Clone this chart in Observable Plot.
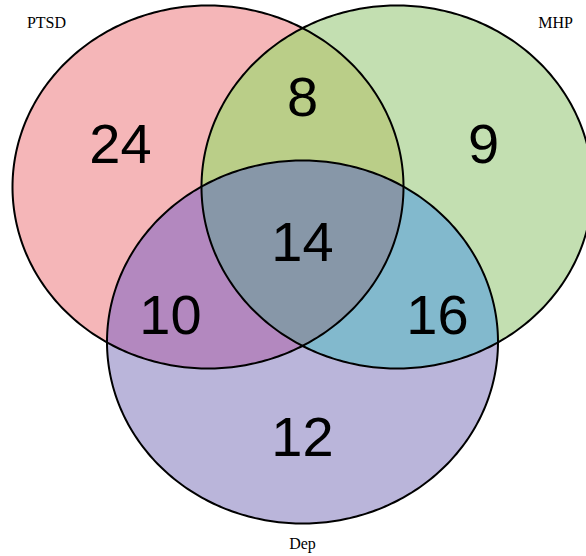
<!DOCTYPE html>
<html><head><meta charset="utf-8">
<script src="https://cdn.jsdelivr.net/npm/d3@7"></script>
<script src="https://cdn.jsdelivr.net/npm/@observablehq/plot@0.6"></script>
<style>body{margin:0;background:#fff}#chart svg{display:block}</style>
</head><body><div id="chart"></div>
<script>
// ---- data ----
const sets = ["PTSD", "MHP", "Dep"];
const regionKeys = ["100", "010", "001", "110", "101", "011", "111"]; // membership in PTSD, MHP, Dep
const counts = [24, 9, 12, 8, 10, 16, 14];
const regionColors = ["#F5B6B8", "#C3DFB1", "#BAB5DA", "#BACE88", "#B388BF", "#82B9CD", "#8797A8"];

// ---- layout (pixel units) ----
const circleCx = [207.5, 396.5, 302];
const circleCy = [186.5, 186.5, 341.5];
const radiusX = 195.5, radiusY = 181.5;
const countX = [120, 483, 302, 302, 170, 437, 302];
const countY = [145, 145, 438, 98, 316, 316, 243];
const setLabelX = [46, 555, 302];
const setLabelY = [22, 22, 543];

const inside = (i, x, y) => {
  const dx = (x - circleCx[i]) / radiusX, dy = (y - circleCy[i]) / radiusY;
  return dx * dx + dy * dy <= 1;
};
const regionFill = (x, y) => {
  const key = sets.map((_, i) => inside(i, x, y) ? "1" : "0").join("");
  const k = regionKeys.indexOf(key);
  return k < 0 ? null : regionColors[k];
};

const outline = [];
sets.forEach((s, i) => {
  for (let a = 0; a < 360; a += 1) {
    const t = a * Math.PI / 180;
    outline.push({set: s, x: circleCx[i] + radiusX * Math.cos(t), y: circleCy[i] + radiusY * Math.sin(t)});
  }
});

const chart = Plot.plot({
  width: 586, height: 556, margin: 0,
  x: {domain: [0, 586], range: [0, 586], axis: null},
  y: {domain: [0, 556], range: [0, 556], axis: null},
  color: {type: "identity"},
  style: {background: "white"},
  marks: [
    Plot.raster({fill: regionFill, x1: 0, x2: 586, y1: 0, y2: 556, pixelRatio: 1}),
    Plot.line(outline, {x: "x", y: "y", z: "set", curve: "linear-closed", stroke: "black", strokeWidth: 2}),
    Plot.text(counts, {x: (d, i) => countX[i], y: (d, i) => countY[i], text: d => String(d),
      fontSize: 56, fontFamily: "Liberation Sans, Arial, sans-serif", fill: "black"}),
    Plot.text(sets, {x: (d, i) => setLabelX[i], y: (d, i) => setLabelY[i], text: d => d,
      fontSize: 16, fontFamily: "Liberation Serif, Times New Roman, serif", fill: "black"})
  ]
});
document.getElementById("chart").appendChild(chart);
</script>
</body></html>
